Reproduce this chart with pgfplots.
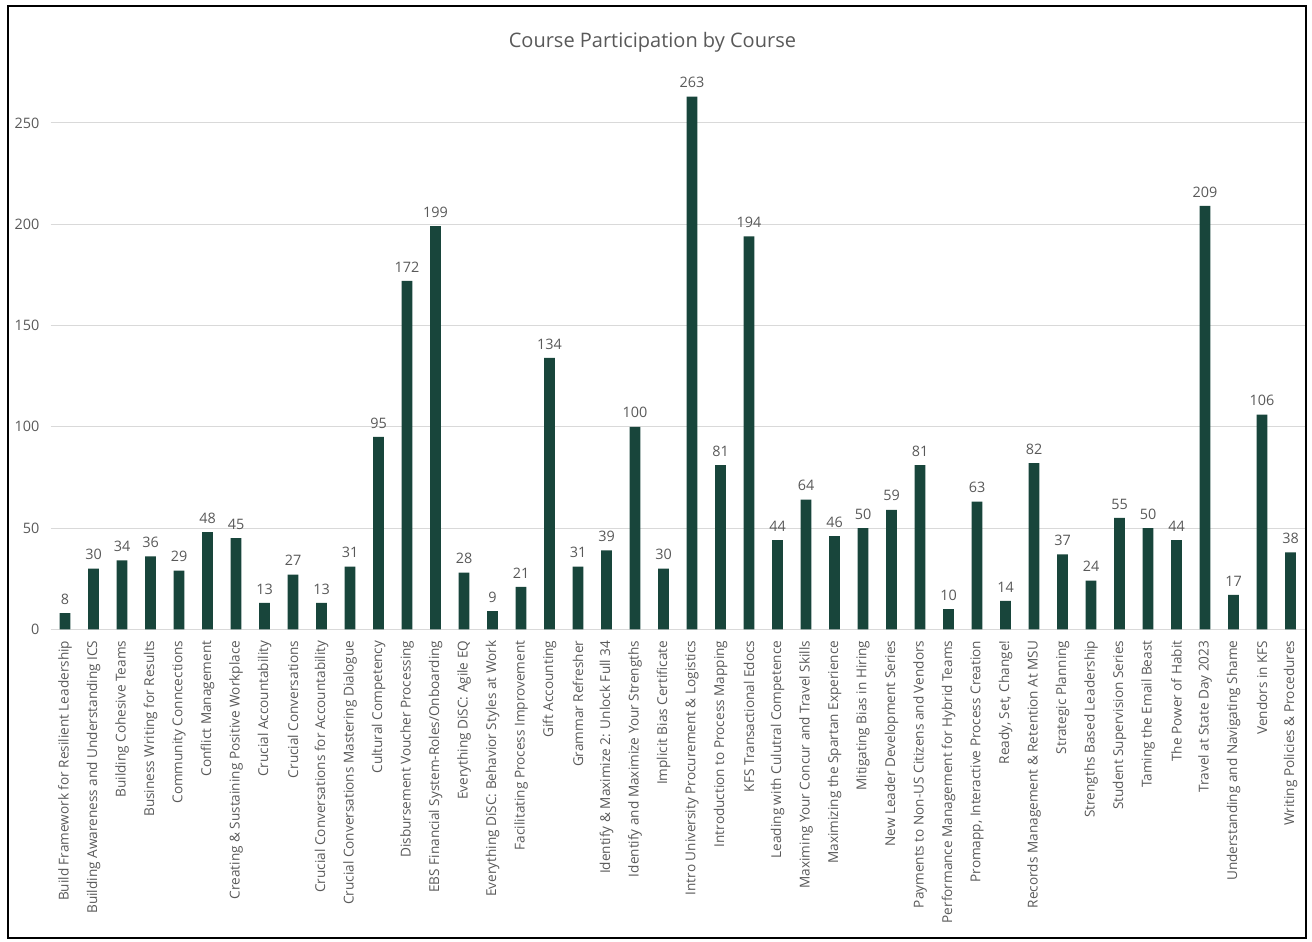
\documentclass[border=0pt]{standalone}
\usepackage{fontspec}
\setmainfont{Open Sans}
\usepackage{pgfplots}
\pgfplotsset{compat=1.18}
\definecolor{msugreen}{HTML}{18453B}
\definecolor{txtgray}{HTML}{595959}
\definecolor{gridgray}{HTML}{D9D9D9}
\begin{document}
\begin{tikzpicture}
\useasboundingbox (-38.06pt,-234.5pt) rectangle (945.94pt,471.98pt);
\begin{axis}[
  at={(0,0)}, anchor=south west,
  scale only axis,
  width=940.5pt, height=417.75pt,
  xmin=-0.5, xmax=43.5,
  ymin=0, ymax=275,
  ytick={0,50,100,150,200,250},
  xtick={0,...,43},
  axis line style={draw=none},
  major tick length=0pt,
  ymajorgrids, grid style={gridgray, line width=0.75pt},
  /pgf/number format/assume math mode=true,
  yticklabel style={font=\fontsize{10.8}{12}\selectfont, text=txtgray, xshift=-5pt},
  xticklabel style={font=\fontsize{10.2}{12}\selectfont, text=txtgray, rotate=90, anchor=east, xshift=-5pt},
  xticklabels={
    Build Framework for Resilient Leadership,
    Building Awareness and Understanding ICS,
    Building Cohesive Teams,
    Business Writing for Results,
    Community Conncections,
    Conflict Management,
    Creating \& Sustaining Positive Workplace,
    Crucial Accountability,
    Crucial Conversations,
    Crucial Conversations for Accountability,
    Crucial Conversations Mastering Dialogue,
    Cultural Competency,
    Disbursement Voucher Processing,
    EBS Financial System-Roles/Onboarding,
    Everything DiSC: Agile EQ,
    Everything DiSC: Behavior Styles at Work,
    Facilitating Process Improvement,
    Gift Accounting,
    Grammar Refresher,
    Identify \& Maximize 2: Unlock Full 34,
    Identify and Maximize Your Strengths,
    Implicit Bias Certificate,
    Intro University Procurement \& Logistics,
    Introduction to Process Mapping,
    KFS Transactional Edocs,
    Leading with Culutral Competence,
    Maximing Your Concur and Travel Skills,
    Maximizing the Spartan Experience,
    Mitigating Bias in Hiring,
    New Leader Development Series,
    Payments to Non-US Citizens and Vendors,
    Performance Management for Hybrid Teams,
    {Promapp, Interactive Process Creation},
    {Ready, Set, Change!},
    Records Management \& Retention At MSU,
    Strategic Planning,
    Strengths Based Leadership,
    Student Supervision Series,
    Taming the Email Beast,
    The Power of Habit,
    Travel at State Day 2023,
    Understanding and Navigating Shame,
    Vendors in KFS,
    Writing Policies \& Procedures},
  title={Course Participation by Course},
  title style={at={(0.5,1)}, anchor=center, yshift=16.5pt, xshift=-19pt,
    font=\fontsize{15}{17}\selectfont, text=txtgray},
  clip=false,
]
\draw[gridgray, line width=0.75pt] (axis cs:-0.5,0) -- (axis cs:43.5,0);
\addplot[ybar, bar width=8pt, fill=msugreen, draw=none,
  nodes near coords,
  every node near coord/.append style={font=\fontsize{10.8}{12}\selectfont, text=txtgray, yshift=3pt}]
  coordinates {
  (0,8) (1,30) (2,34) (3,36) (4,29) (5,48) (6,45) (7,13) (8,27) (9,13)
  (10,31) (11,95) (12,172) (13,199) (14,28) (15,9) (16,21) (17,134) (18,31) (19,39)
  (20,100) (21,30) (22,263) (23,81) (24,194) (25,44) (26,64) (27,46) (28,50) (29,59)
  (30,81) (31,10) (32,63) (33,14) (34,82) (35,37) (36,24) (37,55) (38,50) (39,44)
  (40,209) (41,17) (42,106) (43,38)
  };
\end{axis}
\draw[black, line width=1.5pt] (-32.06pt,-231.75pt) rectangle (941.4pt,467.25pt);
\end{tikzpicture}
\end{document}
